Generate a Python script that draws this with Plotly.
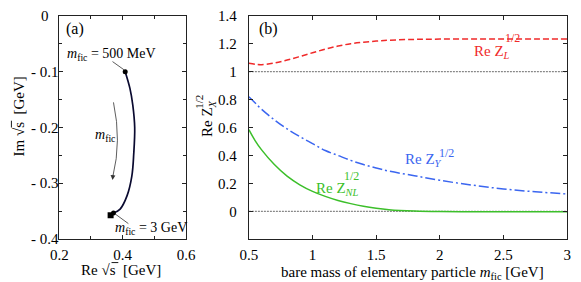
import plotly.graph_objects as go

# ---------------- data: panel (a) pole trajectory ----------------
re_sqrt_s = [0.408, 0.423, 0.432, 0.438, 0.435, 0.429, 0.414, 0.392, 0.371]
im_sqrt_s = [-0.100, -0.130, -0.160, -0.200, -0.247, -0.287, -0.322, -0.346, -0.353]
end_square_re = [0.362]
end_square_im = [-0.357]

# ---------------- data: panel (b) ----------------
m_fic = [0.5, 0.55, 0.6, 0.7, 0.8, 0.9, 1.0, 1.1, 1.2, 1.3, 1.4, 1.5, 1.6, 1.8, 2.0, 2.25, 2.5, 2.75, 3.0]
re_ZL = [1.060, 1.053, 1.050, 1.062, 1.083, 1.108, 1.135, 1.161, 1.183, 1.200, 1.211, 1.219, 1.225,
         1.231, 1.233, 1.234, 1.234, 1.234, 1.234]
re_ZY = [0.82, 0.775, 0.73, 0.655, 0.59, 0.535, 0.485, 0.435, 0.40, 0.365, 0.335, 0.31, 0.288,
         0.255, 0.222, 0.188, 0.16, 0.14, 0.124]
re_ZNL = [0.585, 0.505, 0.44, 0.335, 0.252, 0.19, 0.143, 0.107, 0.078, 0.055, 0.036, 0.022, 0.012,
          0.002, -0.002, -0.003, -0.003, -0.003, -0.003]
ref_levels = [1.0, 0.0]

a_xticks = [0.2, 0.4, 0.6]
a_yticks = [0, -0.1, -0.2, -0.3, -0.4]
a_yticktext = ["0", "- 0.1", "- 0.2", "- 0.3", "- 0.4"]
b_xticks = [0.5, 1, 1.5, 2, 2.5, 3]
b_xticktext = ["0.5", "1", "1.5", "2", "2.5", "3"]
b_yticks = [0, 0.2, 0.4, 0.6, 0.8, 1.0, 1.2, 1.4]
b_yticktext = ["0", "0.2", "0.4", "0.6", "0.8", "1", "1.2", "1.4"]

W, H = 581, 282
RED, BLUE, GREEN = "#f02a2a", "#3b66f0", "#3cbf2a"
FONT = "Liberation Serif"


def px(x):
    return x / W


def py(y):
    return 1 - y / H


fig = go.Figure()

# panel (a)
fig.add_trace(go.Scatter(x=re_sqrt_s, y=im_sqrt_s, mode="lines", line=dict(color="#0a0a30", width=1.7, shape="spline"),
                         xaxis="x", yaxis="y", showlegend=False))
fig.add_trace(go.Scatter(x=[re_sqrt_s[0], re_sqrt_s[-1]], y=[im_sqrt_s[0], im_sqrt_s[-1]], mode="markers",
                         marker=dict(color="black", size=5, symbol="circle"), xaxis="x", yaxis="y", showlegend=False))
fig.add_trace(go.Scatter(x=end_square_re, y=end_square_im, mode="markers",
                         marker=dict(color="black", size=6, symbol="square"), xaxis="x", yaxis="y", showlegend=False))

# panel (b)
for lv in ref_levels:
    fig.add_trace(go.Scatter(x=[m_fic[0], m_fic[-1]], y=[lv, lv], mode="lines",
                             line=dict(color="#888888", width=1.2, dash="2px,1px"),
                             xaxis="x2", yaxis="y2", showlegend=False))
fig.add_trace(go.Scatter(x=m_fic, y=re_ZL, mode="lines", line=dict(color=RED, width=1.5, dash="6px,3px", shape="spline"),
                         xaxis="x2", yaxis="y2", showlegend=False))
fig.add_trace(go.Scatter(x=m_fic, y=re_ZY, mode="lines",
                         line=dict(color=BLUE, width=1.5, dash="10px,3px,2px,3px", shape="spline"),
                         xaxis="x2", yaxis="y2", showlegend=False))
fig.add_trace(go.Scatter(x=m_fic, y=re_ZNL, mode="lines", line=dict(color=GREEN, width=1.5, shape="spline"),
                         xaxis="x2", yaxis="y2", showlegend=False))

axis_common = dict(showline=True, linecolor="#222222", linewidth=1.2, mirror="ticks", ticks="inside",
                   ticklen=4, tickcolor="#222222", showgrid=False, zeroline=False,
                   tickfont=dict(family=FONT, size=15, color="black"))

fig.update_layout(
    width=W, height=H, margin=dict(l=0, r=0, t=0, b=0),
    paper_bgcolor="white", plot_bgcolor="white",
    font=dict(family=FONT, size=15, color="black"),
    xaxis=dict(domain=[px(52), px(183)], range=[0.2, 0.6], tickvals=a_xticks, ticktext=[str(v) for v in a_xticks],
               minor=dict(dtick=0.1, ticks="inside", ticklen=3, tickcolor="#222222"), anchor="y",
               ticklabelstandoff=2, **axis_common),
    yaxis=dict(domain=[py(238), py(8)], range=[-0.4, 0], tickmode="array", tickvals=a_yticks,
               showticklabels=False,
               minor=dict(dtick=0.05, ticks="inside", ticklen=3, tickcolor="#222222"), anchor="x",
               **axis_common),
    xaxis2=dict(domain=[px(248), px(577)], range=[0.5, 3], tickvals=b_xticks, ticktext=b_xticktext, anchor="y2",
                ticklabelstandoff=2, **axis_common),
    yaxis2=dict(domain=[py(238), py(8)], range=[-0.2, 1.4], tickvals=b_yticks, ticktext=b_yticktext, anchor="x2",
                ticklabelstandoff=8, **axis_common),
)

ann = []


def txt(x, y, s, size=15, color="black", angle=0, xanchor="center"):
    ann.append(dict(x=px(x), y=py(y), xref="paper", yref="paper", text=s, showarrow=False,
                    font=dict(family=FONT, size=size, color=color), textangle=angle, xanchor=xanchor,
                    yanchor="middle"))


# panel (a) y tick labels, placed through the y axis scale
for v, t in zip(a_yticks, a_yticktext):
    ann.append(dict(x=px(37), y=v, xref="paper", yref="y", text=t, showarrow=False,
                    font=dict(family=FONT, size=15, color="black"), xanchor="center", yanchor="middle"))

# panel labels
txt(68, 22, "(a)", 16)
txt(268, 22, "(b)", 16)

# axis titles
txt(116, 270, "Re √s  [GeV]")
txt(10, 112, "Im √s  [GeV]", angle=-90)
txt(417, 273, "bare mass of elementary particle <i>m</i><sub>fic</sub> [GeV]")
txt(206, 114, "Re Z<sub><i>X</i></sub>", angle=-90)
txt(197, 97, "1/2", 11, angle=-90)

# panel (a) annotations
txt(106, 48, "<i>m</i><sub>fic</sub> = 500 MeV", 14)
txt(147, 227, "<i>m</i><sub>fic</sub> = 3 GeV", 14)
txt(100, 131, "<i>m</i><sub>fic</sub>", 14)

# panel (b) curve labels
txt(479, 45, "Re Z<sub><i>L</i></sub>", 15, RED, xanchor="left")
txt(521, 31, "1/2", 12, RED)
txt(407, 156, "Re Z<sub><i>Y</i></sub>", 15, BLUE, xanchor="left")
txt(452, 149, "1/2", 12, BLUE)
txt(315, 186, "Re Z<sub><i>NL</i></sub>", 15, GREEN, xanchor="left")
txt(354, 173, "1/2", 12, GREEN)

# arrowhead for the m_fic arrow
ann.append(dict(x=0.368, y=-0.294, ax=0.370, ay=-0.282, xref="x", yref="y", axref="x", ayref="y",
                showarrow=True, arrowhead=2, arrowsize=1.2, arrowwidth=0.8, arrowcolor="#333333", text=""))
fig.update_layout(annotations=ann)

shapes = [
    dict(type="path", xref="x", yref="y", path="M 0.371,-0.155 Q 0.397,-0.224 0.369,-0.288",
         line=dict(color="#333333", width=0.8)),
    dict(type="line", xref="x", yref="y", x0=0.368, y0=-0.082, x1=0.405, y1=-0.097,
         line=dict(color="#333333", width=0.8)),
    dict(type="line", xref="x", yref="y", x0=0.377, y0=-0.355, x1=0.418, y1=-0.372,
         line=dict(color="#333333", width=0.8)),
    # overline of the square-root signs in the panel (a) axis titles
    dict(type="line", xref="paper", yref="paper", x0=px(106), x1=px(113), y0=py(262), y1=py(262),
         line=dict(color="black", width=0.9)),
    dict(type="line", xref="paper", yref="paper", x0=px(2.5), x1=px(2.5), y0=py(116), y1=py(123),
         line=dict(color="black", width=0.9)),
]
fig.update_layout(shapes=shapes)

post = (
    "document.documentElement.style.margin='0';document.documentElement.style.overflow='hidden';"
    "document.body.style.margin='0';document.body.style.padding='0';document.body.style.overflow='hidden';"
    "var d=document.querySelectorAll('.plotly-graph-div');"
    "for(var i=0;i<d.length;i++){d[i].style.position='absolute';d[i].style.left='0px';d[i].style.top='0px';}"
    "window.scrollTo(0,0);"
)
fig.write_html("out.html", config={"displayModeBar": False}, post_script=post)
